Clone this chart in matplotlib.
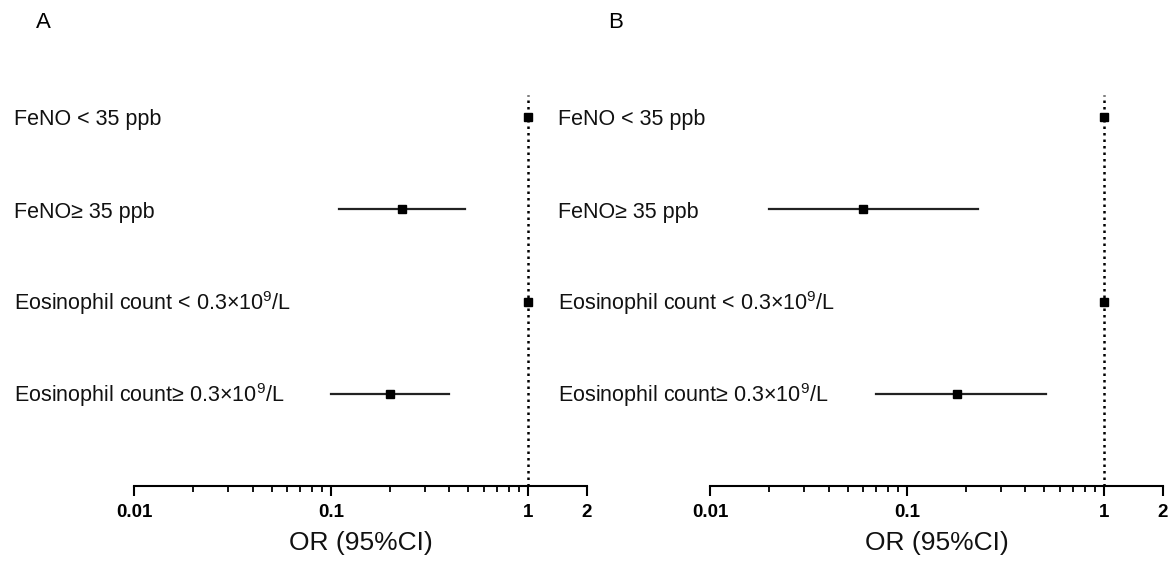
import numpy as np
import matplotlib
matplotlib.use("Agg")
import matplotlib.pyplot as plt
from matplotlib.ticker import FixedLocator, NullFormatter
from matplotlib.transforms import blended_transform_factory, offset_copy

plt.rcParams['font.family'] = ['Liberation Sans', 'DejaVu Sans']
plt.rcParams['mathtext.fontset'] = 'custom'
plt.rcParams['mathtext.rm'] = 'Liberation Sans'
plt.rcParams['mathtext.it'] = 'Liberation Sans:italic'
plt.rcParams['mathtext.bf'] = 'Liberation Sans:bold'

# DATA
labels = ["FeNO < 35 ppb",
          "FeNO\u2265 35 ppb",
          "Eosinophil count < 0.3\u00d710$^{9}$/L",
          "Eosinophil count\u2265 0.3\u00d710$^{9}$/L"]
panels = ["A", "B"]
# odds ratio, lower, upper (None = reference)
or_a = [1.0, 0.23, 1.0, 0.20]
lo_a = [None, 0.11, None, 0.10]
hi_a = [None, 0.48, None, 0.40]
or_b = [1.0, 0.060, 1.0, 0.18]
lo_b = [None, 0.020, None, 0.070]
hi_b = [None, 0.23, None, 0.51]
xticks = [0.01, 0.1, 1, 2]
xticklabels = ["0.01", "0.1", "1", "2"]

fig = plt.figure(figsize=(11.74, 5.61), dpi=100, facecolor='white')
ax_a = fig.add_axes([134 / 1174, 0.1337, 453 / 1174, 0.697])
ax_b = fig.add_axes([710 / 1174, 0.1337, 453 / 1174, 0.697])

label_x = [14 / 1174, 558 / 1174]
panel_x = [36 / 1174, 608 / 1174]

for i, (ax, ors, los, his) in enumerate([(ax_a, or_a, lo_a, hi_a), (ax_b, or_b, lo_b, hi_b)]):
    rows = np.arange(len(labels))[::-1] + 1
    ax.set_xscale('log')
    ax.set_xlim(0.01, 2)
    ax.set_ylim(0, 4.24)

    ax.axvline(1, color='black', ls=(0, (1, 1.6)), lw=1.8, zorder=1)
    for y, o, l, h in zip(rows, ors, los, his):
        if l is not None:
            ax.plot([l, h], [y, y], color='#222222', lw=1.6, zorder=2)
        ax.plot(o, y, 's', color='black', ms=6, zorder=3)

    # labels on the left
    trans = blended_transform_factory(fig.transFigure, ax.transData)
    trans = offset_copy(trans, fig=fig, y=-6, units='points')
    for y, lab in zip(rows, labels):
        ax.text(label_x[i], y, lab, transform=trans, ha='left', va='baseline',
                fontsize=15.5, color='#111111', clip_on=False)

    for s in ['top', 'right', 'left']:
        ax.spines[s].set_visible(False)
    ax.spines['bottom'].set_linewidth(1.5)
    ax.set_yticks([])
    ax.xaxis.set_major_locator(FixedLocator(xticks))
    ax.set_xticklabels(xticklabels, fontsize=13.5, fontweight='bold')
    minors = [m * d for d in [0.01, 0.1] for m in range(2, 10)]
    ax.xaxis.set_minor_locator(FixedLocator(minors))
    ax.xaxis.set_minor_formatter(NullFormatter())
    ax.tick_params(axis='x', which='major', length=7, width=1.5, pad=6)
    ax.tick_params(axis='x', which='minor', length=4, width=1.3)
    ax.set_xlabel("OR (95%CI)", fontsize=19, labelpad=7, color='#111111')

    fig.text(panel_x[i], 1 - 22 / 561, panels[i], fontsize=16, va='center', ha='left')

fig.savefig("out.png", dpi=100, facecolor='white')
